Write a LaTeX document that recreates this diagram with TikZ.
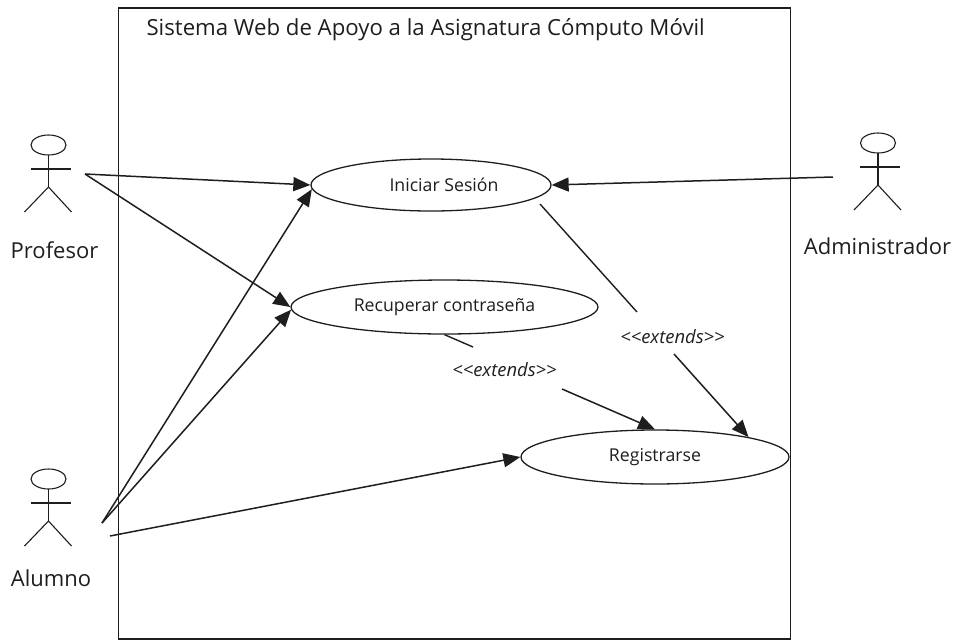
\documentclass[tikz,border=0pt]{standalone}
\usepackage{fontspec}
\setmainfont{Open Sans}
\usepackage{tikz}
\usetikzlibrary{
    shapes.geometric,
    arrows.meta,
    positioning
}
\definecolor{inkgray}{RGB}{30, 30, 30}
\tikzstyle{arrow} = [
    -{Triangle[length=17pt,width=14pt]},
    line width=1.5pt,
    inkgray
]
\tikzstyle{plainline} = [
    line width=1.4pt,
    inkgray
]
\tikzstyle{usecase} = [
    ellipse,
    draw=inkgray,
    line width=1.3pt,
    inner sep=0pt,
    text=inkgray,
    font=\fontsize{17.7}{20}\selectfont
]
\tikzstyle{actorname} = [
    text=inkgray,
    font=\fontsize{22}{25}\selectfont
]
\tikzstyle{stereotype} = [
    text=inkgray,
    font=\fontsize{18.4}{21}\selectfont\itshape
]

\begin{document}
\begin{tikzpicture}[x=1pt,y=-1pt]
    \useasboundingbox (0,0) rectangle (954,641);

    % System boundary
    \draw[inkgray, line width=1.4pt] (118.5,8) rectangle (790.5,639);
    \node[anchor=west, actorname, font=\fontsize{22.2}{25}\selectfont] (titulo) at (143,30)
        {Sistema Web de Apoyo a la Asignatura Cómputo Móvil};

    % Actors
    \foreach \x/\y in {48.5/145, 48.5/479, 878/143} {
        \draw[plainline, line width=1.1pt] (\x,\y) ellipse (17.5 and 10);
        \draw[plainline, line width=1.1pt] (\x,\y+10) -- (\x,\y+42);
        \draw[plainline, line width=1.1pt] (\x-18,\y+24) -- (\x+22,\y+24);
        \draw[plainline, line width=1.1pt] (\x-24,\y+67) -- (\x,\y+42) -- (\x+23,\y+67);
    }
    \node[actorname] (profesor) at (54.5,250) {Profesor};
    \node[actorname] (alumno) at (51,578) {Alumno};
    \node[actorname] (administrador) at (877.5,246) {Administrador};

    % Use cases
    \node[usecase, minimum width=240pt, minimum height=52pt] (iniciar) at (431,185)
        {\hspace*{26pt}\raisebox{-1pt}{Iniciar Sesión}};
    \node[usecase, minimum width=307pt, minimum height=54pt] (recuperar) at (444.5,307)
        {\raisebox{-3pt}{Recuperar contraseña}};
    \node[usecase, minimum width=268pt, minimum height=54pt] (registrarse) at (655,457)
        {\raisebox{-3pt}{Registrarse}};

    % Stereotype labels
    \node[stereotype] (extiniciar) at (672.5,337) {<{}<extends>{}>};
    \node[stereotype] (extrecuperar) at (504.5,370) {<{}<extends>{}>};

    % Free line ends
    \coordinate (profesormano) at (85,174);
    \coordinate (alumnomano) at (102,523);
    \coordinate (alumnopie) at (110,536);
    \coordinate (adminmano) at (833,177);
    \coordinate (iniciarsale) at (540,204);
    \coordinate (iniciarcorte) at (637,312);
    \coordinate (iniciarsigue) at (674,354);
    \coordinate (recuperarcorte) at (473,347);
    \coordinate (recuperarsigue) at (562,389);

    % Associations
    \draw[arrow] (profesormano) -- (iniciar.west);
    \draw[arrow] (profesormano) -- (recuperar.west);
    \draw[arrow] (alumnomano) -- (iniciar.182);
    \draw[arrow] (alumnomano) -- (recuperar.181);
    \draw[arrow] (alumnopie) -- (registrarse.west);
    \draw[arrow] (adminmano) -- (iniciar.east);

    % Extends
    \draw[plainline] (iniciarsale) -- (iniciarcorte);
    \draw[arrow] (iniciarsigue) -- (registrarse.12);
    \draw[plainline] (recuperar.south) -- (recuperarcorte);
    \draw[arrow] (recuperarsigue) -- (registrarse.north);
\end{tikzpicture}
\end{document}
